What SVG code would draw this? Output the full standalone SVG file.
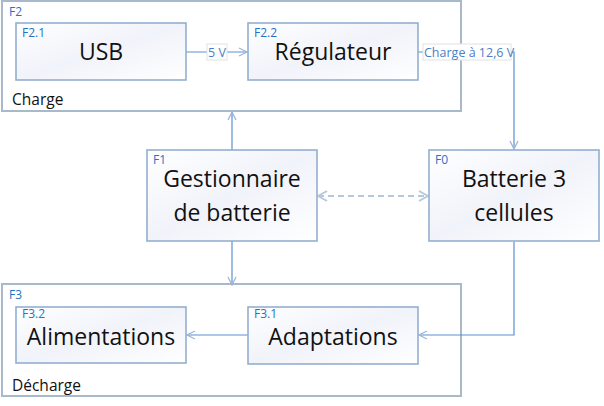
<svg xmlns="http://www.w3.org/2000/svg" width="604" height="406" viewBox="0 0 604 406">
<defs>
<linearGradient id="g" x1="0" y1="0" x2="1" y2="1">
<stop offset="0" stop-color="#ffffff"/>
<stop offset="0.5" stop-color="#f1f3fa"/>
<stop offset="1" stop-color="#ffffff"/>
</linearGradient>
<marker id="a" viewBox="0 0 10 10" refX="9" refY="5" markerWidth="10" markerHeight="10" markerUnits="userSpaceOnUse" orient="auto-start-reverse">
<path d="M1,1 L9,5 L1,9" fill="none" stroke="#9fb6d6" stroke-width="1.3"/>
</marker>
<marker id="d" viewBox="0 0 12 12" refX="11" refY="6" markerWidth="12" markerHeight="12" markerUnits="userSpaceOnUse" orient="auto-start-reverse">
<path d="M2,1 L11,6 L2,11" fill="none" stroke="#b8c8dc" stroke-width="2"/>
</marker>
</defs>
<style>
.outer{fill:#ffffff;stroke:#a9b9cc;stroke-width:2}
.box{fill:url(#g);stroke:#93aed0;stroke-width:1.6}
.t{font-family:"Open Sans","Noto Sans",sans-serif;font-size:23px;fill:#111111;text-anchor:middle}
.id{font-family:"Open Sans","Noto Sans",sans-serif;font-size:12px;fill:#1f74c9}
.grp{font-family:"Open Sans","Noto Sans",sans-serif;font-size:15.5px;fill:#111111}
.c{fill:none;stroke:#5b8fcf;stroke-width:1.2}
.dash{fill:none;stroke:#b8c8dc;stroke-width:2;stroke-dasharray:6 4}
.lbl{font-family:"Open Sans","Noto Sans",sans-serif;font-size:12.5px;fill:#4a7fc6}
.lb{fill:#ffffff;stroke:#e2e2e2;stroke-width:1}
</style>
<g id="F2">
<rect class="outer" x="2" y="1" width="459" height="110"/>
<text class="id" x="9" y="16">F2</text>
<text class="grp" x="12" y="105">Charge</text>
</g>
<g id="F3">
<rect class="outer" x="2" y="284" width="459" height="112"/>
<text class="id" x="9" y="299">F3</text>
<text class="grp" x="12" y="391">Décharge</text>
</g>
<g id="connectors">
<path class="c" d="M186,52 H247" marker-end="url(#a)"/>
<path class="c" d="M418,52 H514 V149" marker-end="url(#a)"/>
<path class="c" d="M232,150 V112" marker-end="url(#a)"/>
<path class="c" d="M232,241 V285" marker-end="url(#a)"/>
<path class="c" d="M514,242 V335 H419" marker-end="url(#a)"/>
<path class="c" d="M248,335 H187" marker-end="url(#a)"/>
<path class="dash" d="M318,196 H428" marker-start="url(#d)" marker-end="url(#d)"/>
<rect class="lb" x="207" y="44" width="20" height="16"/>
<text class="lbl" x="208" y="57">5 V</text>
<rect class="lb" x="423" y="44" width="88" height="16"/>
<text class="lbl" x="424" y="57">Charge à 12,6 V</text>
</g>
<g id="F2.1">
<rect class="box" x="16" y="23" width="170" height="57"/>
<text class="id" x="22" y="37">F2.1</text>
<text class="t" x="101" y="60">USB</text>
</g>
<g id="F2.2">
<rect class="box" x="248" y="23" width="170" height="57"/>
<text class="id" x="254" y="37">F2.2</text>
<text class="t" x="333" y="60">Régulateur</text>
</g>
<g id="F1">
<rect class="box" x="147" y="150" width="170" height="91"/>
<text class="id" x="153" y="164">F1</text>
<text class="t" x="232" y="187">Gestionnaire</text>
<text class="t" x="232" y="221">de batterie</text>
</g>
<g id="F0">
<rect class="box" x="429" y="150" width="170" height="91"/>
<text class="id" x="435" y="164">F0</text>
<text class="t" x="514" y="187">Batterie 3</text>
<text class="t" x="514" y="221">cellules</text>
</g>
<g id="F3.2">
<rect class="box" x="16" y="307" width="170" height="56"/>
<text class="id" x="22" y="318">F3.2</text>
<text class="t" x="101" y="345">Alimentations</text>
</g>
<g id="F3.1">
<rect class="box" x="248" y="307" width="170" height="57"/>
<text class="id" x="254" y="318">F3.1</text>
<text class="t" x="333" y="345">Adaptations</text>
</g>
</svg>
